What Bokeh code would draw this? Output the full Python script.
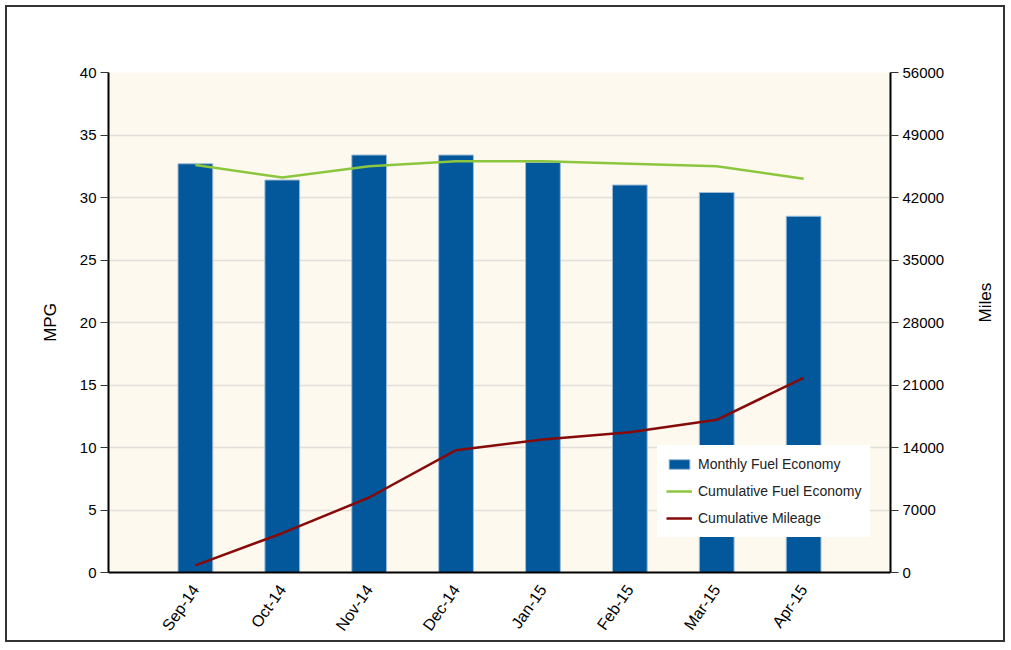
import math
from bokeh.plotting import figure
from bokeh.models import Range1d, LinearAxis, FixedTicker, Legend, LegendItem, ColumnDataSource
from bokeh.embed import file_html
from bokeh.resources import INLINE

months = ["Sep-14", "Oct-14", "Nov-14", "Dec-14", "Jan-15", "Feb-15", "Mar-15", "Apr-15"]
monthly_mpg = [32.7, 31.4, 33.4, 33.4, 32.8, 31.0, 30.4, 28.5]
cumulative_mpg = [32.6, 31.6, 32.5, 32.9, 32.9, 32.7, 32.5, 31.5]
cumulative_miles = [800, 4400, 8400, 13700, 14900, 15700, 17100, 21800]
mpg_ticks = [0, 5, 10, 15, 20, 25, 30, 35, 40]
miles_ticks = [0, 7000, 14000, 21000, 28000, 35000, 42000, 49000, 56000]

xpos = list(range(1, len(months) + 1))
src = ColumnDataSource(dict(x=xpos, mpg=monthly_mpg, cmpg=cumulative_mpg, miles=cumulative_miles))

FONT = "Liberation Sans"

p = figure(width=1000, height=637, output_backend="svg", toolbar_location=None,
           x_range=Range1d(0, len(months) + 1), y_range=Range1d(0, 40),
           min_border_left=101, min_border_right=117, min_border_top=65, min_border_bottom=72)
p.margin = (5, 0, 0, 5)
p.styles = {"border": "2px solid #333333", "box-sizing": "border-box"}
p.background_fill_color = "#FDF9EE"
p.border_fill_color = "white"
p.outline_line_color = None

p.extra_y_ranges = {"miles": Range1d(0, 56000)}

bars = p.vbar(x="x", top="mpg", width=0.4, source=src, fill_color="#02589A", line_color="#9FBCD6", line_width=1)
l1 = p.line(x="x", y="cmpg", source=src, line_color="#8CC63E", line_width=2.5)
l2 = p.line(x="x", y="miles", source=src, y_range_name="miles", line_color="#870A0A", line_width=2.5)

# x axis
xa = p.xaxis[0]
xa.ticker = FixedTicker(ticks=xpos)
xa.major_label_overrides = {i: m for i, m in zip(xpos, months)}
xa.major_label_orientation = math.radians(55)
xa.major_tick_line_color = None
xa.minor_tick_line_color = None
xa.axis_line_color = "black"
xa.axis_line_width = 2
xa.major_label_text_font = FONT
xa.major_label_text_font_size = "16px"
xa.major_label_text_color = "black"
xa.major_label_standoff = 8
p.xgrid.grid_line_color = None

# left axis
ya = p.yaxis[0]
ya.ticker = FixedTicker(ticks=mpg_ticks)
ya.axis_label = "MPG"
ya.axis_label_text_font = FONT
ya.axis_label_text_font_size = "17px"
ya.axis_label_text_font_style = "normal"
ya.axis_label_text_color = "black"
ya.axis_label_standoff = 17
ya.axis_line_color = "black"
ya.axis_line_width = 2
ya.major_tick_in = 0
ya.major_tick_out = 8
ya.major_tick_line_color = "#333333"
ya.minor_tick_line_color = None
ya.major_label_text_font = FONT
ya.major_label_text_font_size = "15px"
ya.major_label_text_color = "black"
ya.major_label_standoff = 4
p.ygrid.ticker = FixedTicker(ticks=mpg_ticks)
p.ygrid.grid_line_color = "#E2E0DA"
p.ygrid.grid_line_width = 1.5

# right axis
ra = LinearAxis(y_range_name="miles", ticker=FixedTicker(ticks=miles_ticks))
ra.axis_label = "Miles"
ra.axis_label_orientation = math.pi / 2
ra.axis_label_text_font = FONT
ra.axis_label_text_font_size = "17px"
ra.axis_label_text_font_style = "normal"
ra.axis_label_text_color = "black"
ra.axis_label_standoff = 38
ra.axis_line_color = "black"
ra.axis_line_width = 2
ra.major_tick_in = 0
ra.major_tick_out = 8
ra.major_tick_line_color = "#333333"
ra.minor_tick_line_color = None
ra.major_label_text_font = FONT
ra.major_label_text_font_size = "15px"
ra.major_label_text_color = "black"
ra.major_label_standoff = 4
p.add_layout(ra, "right")

legend = Legend(items=[
    LegendItem(label="Monthly Fuel Economy", renderers=[bars]),
    LegendItem(label="Cumulative Fuel Economy", renderers=[l1]),
    LegendItem(label="Cumulative Mileage", renderers=[l2]),
], location=(549, 35))
legend.background_fill_color = "white"
legend.background_fill_alpha = 1
legend.border_line_color = "white"
legend.border_line_alpha = 1
legend.label_text_font = FONT
legend.label_text_font_size = "14px"
legend.label_text_color = "#222222"
legend.glyph_width = 26
legend.glyph_height = 12
legend.label_height = 20
legend.label_standoff = 6
legend.spacing = 7
legend.padding = 8
legend.margin = 0
p.add_layout(legend, "center")

open("out.html", "w").write(file_html(p, INLINE))
